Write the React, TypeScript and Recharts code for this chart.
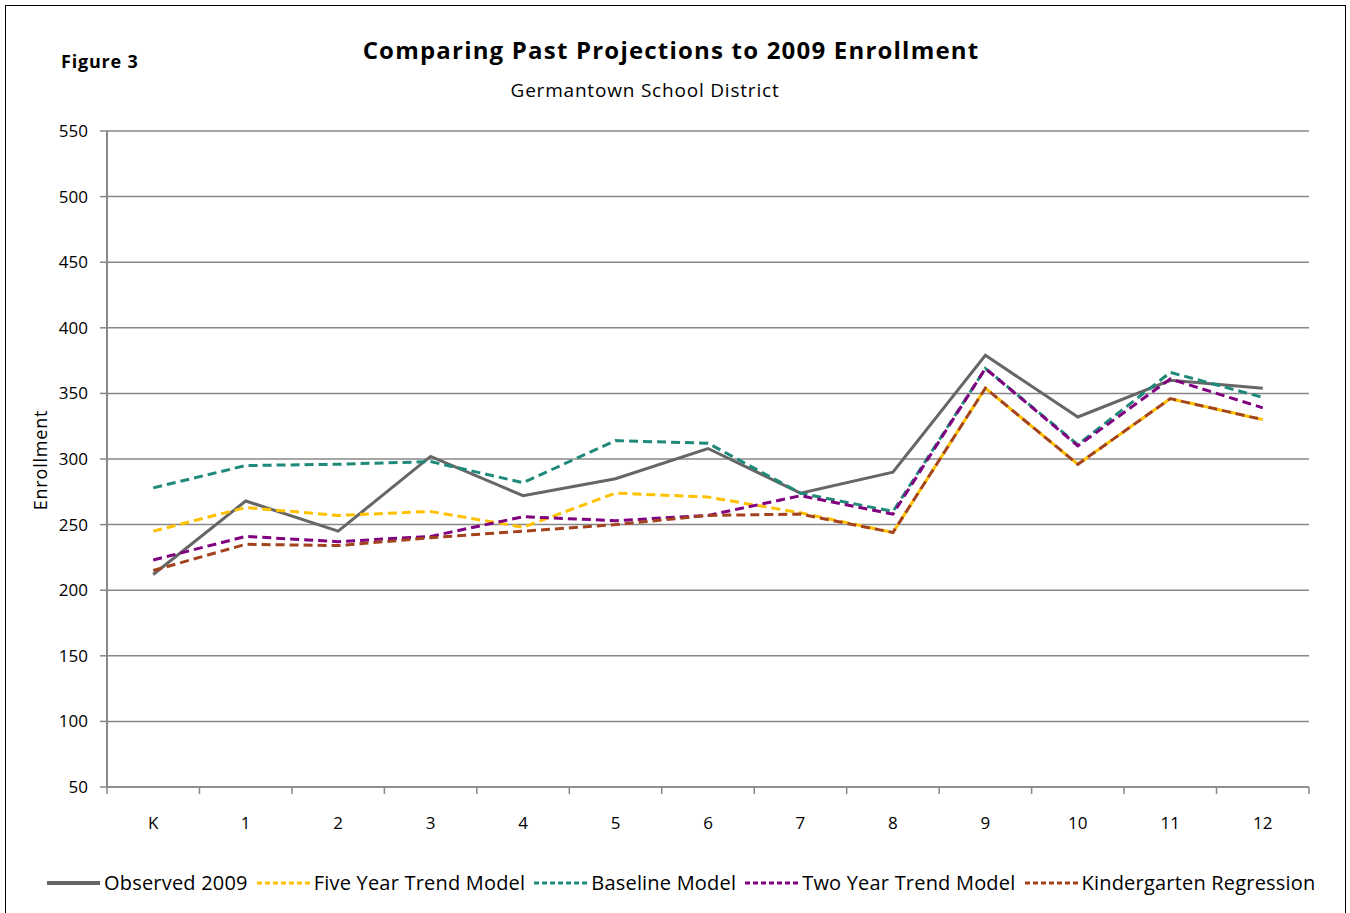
import React from 'react';
import { LineChart, Line, XAxis, YAxis, CartesianGrid } from 'recharts';

const categories = ['K', '1', '2', '3', '4', '5', '6', '7', '8', '9', '10', '11', '12'];
const observed2009 = [212, 268, 245, 302, 272, 285, 308, 274, 290, 379, 332, 360, 354];
const fiveYearTrend = [245, 263, 257, 260, 248, 274, 271, 259, 244, 354, 296, 346, 330];
const baselineModel = [278, 295, 296, 298, 282, 314, 312, 274, 260, 369, 311, 366, 347];
const twoYearTrend = [223, 241, 237, 241, 256, 253, 257, 272, 258, 369, 310, 361, 339];
const kindergartenRegression = [215, 235, 234, 240, 245, 250, 257, 258, 244, 354, 296, 346, 330];
const yTicks = [50, 100, 150, 200, 250, 300, 350, 400, 450, 500, 550];

const seriesDefs = [
  { key: 'observed', name: 'Observed 2009', values: observed2009, color: '#666666', dash: undefined as string | undefined },
  { key: 'five', name: 'Five Year Trend Model', values: fiveYearTrend, color: '#FFC000', dash: '9 5' },
  { key: 'baseline', name: 'Baseline Model', values: baselineModel, color: '#1F8A7A', dash: '9 5' },
  { key: 'two', name: 'Two Year Trend Model', values: twoYearTrend, color: '#800080', dash: '9 5' },
  { key: 'kinder', name: 'Kindergarten Regression', values: kindergartenRegression, color: '#A3431E', dash: '9 5' },
];

const data = categories.map((c, i) => {
  const row: Record<string, string | number> = { grade: c };
  seriesDefs.forEach((s) => {
    row[s.key] = s.values[i];
  });
  return row;
});

const FONT = "'Open Sans', Lato, sans-serif";
const GRID = '#888888';

const XTick = (props: any) => {
  const { x, y, payload, index, visibleTicksCount } = props;
  const off = payload && payload.offset ? payload.offset : 0;
  const last = index === visibleTicksCount - 1;
  return (
    <g>
      <line x1={x - off} y1={y} x2={x - off} y2={y + 7} stroke={GRID} strokeWidth={1.5} />
      {last ? <line x1={x + off} y1={y} x2={x + off} y2={y + 7} stroke={GRID} strokeWidth={1.5} /> : null}
      <text x={x} y={y + 42} textAnchor="middle" fontFamily={FONT} fontSize={17} fill="#000">
        {payload.value}
      </text>
    </g>
  );
};

export default function App() {
  return (
    <div style={{ position: 'absolute', left: 0, top: 0, width: 1350, height: 913, background: '#fff', overflow: 'hidden', fontFamily: FONT }}>
      <div style={{ position: 'absolute', left: 5, top: 5, width: 1341, height: 920, border: '1.5px solid #000', boxSizing: 'border-box' }} />
      <div style={{ position: 'absolute', left: 61, top: 61, transform: 'translateY(-50%)', fontSize: 18, letterSpacing: 0.8, fontWeight: 700, lineHeight: 1, color: '#000' }}>Figure 3</div>
      <div style={{ position: 'absolute', left: 671, top: 50, transform: 'translate(-50%,-50%)', fontSize: 24, letterSpacing: 1.2, fontWeight: 700, lineHeight: 1, whiteSpace: 'nowrap', color: '#000' }}>
        Comparing Past Projections to 2009 Enrollment
      </div>
      <div style={{ position: 'absolute', left: 645, top: 90, transform: 'translate(-50%,-50%)', fontSize: 19, letterSpacing: 0.8, lineHeight: 1, whiteSpace: 'nowrap', color: '#000' }}>
        Germantown School District
      </div>
      <div style={{ position: 'absolute', left: 40, top: 460, transform: 'translate(-50%,-50%) rotate(-90deg)', fontSize: 18, letterSpacing: 0.8, lineHeight: 1, whiteSpace: 'nowrap', color: '#000' }}>
        Enrollment
      </div>
      <div style={{ position: 'absolute', left: 0, top: 0 }}>
        <LineChart width={1350} height={913} data={data} margin={{ top: 131, right: 41, bottom: 96, left: 47 }}>
          <CartesianGrid vertical={false} stroke={GRID} strokeWidth={1.5} />
          <XAxis
            dataKey="grade"
            scale="band"
            axisLine={{ stroke: GRID, strokeWidth: 1.5 }}
            tickLine={false}
            tickSize={0}
            tickMargin={0}
            interval={0}
            height={30}
            tick={<XTick />}
          />
          <YAxis
            domain={[50, 550]}
            ticks={yTicks}
            width={60}
            interval={0}
            axisLine={{ stroke: GRID, strokeWidth: 2 }}
            tickLine={{ stroke: GRID, strokeWidth: 1.5 }}
            tickSize={7}
            tickMargin={12}
            tick={{ fontFamily: FONT, fontSize: 17, fill: '#000' }}
          />
          <YAxis
            yAxisId="right"
            orientation="right"
            domain={[50, 550]}
            width={0}
            tick={false}
            tickLine={false}
            axisLine={{ stroke: GRID, strokeWidth: 2 }}
          />
          {seriesDefs.map((s) => (
            <Line
              key={s.key}
              type="linear"
              dataKey={s.key}
              name={s.name}
              stroke={s.color}
              strokeWidth={3}
              strokeDasharray={s.dash}
              dot={false}
              activeDot={false}
              isAnimationActive={false}
            />
          ))}
        </LineChart>
      </div>
      <div style={{ position: 'absolute', left: 47, top: 883, transform: 'translateY(-50%)', display: 'flex', alignItems: 'center', whiteSpace: 'nowrap', fontSize: 20, letterSpacing: 0.2, lineHeight: 1, color: '#000' }}>
        {seriesDefs.map((s, i) => (
          <div key={s.key} style={{ display: 'flex', alignItems: 'center', marginLeft: i === 0 ? 0 : 9 }}>
            <svg width={53} height={10} style={{ marginRight: 4 }}>
              <line x1={0} y1={5} x2={53} y2={5} stroke={s.color} strokeWidth={s.dash ? 3 : 4} strokeDasharray={s.dash ? '5 3' : undefined} />
            </svg>
            <span>{s.name}</span>
          </div>
        ))}
      </div>
    </div>
  );
}
